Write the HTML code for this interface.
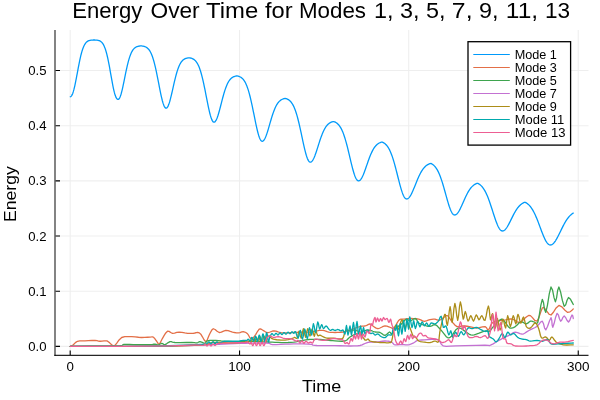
<!DOCTYPE html>
<html><head><meta charset="utf-8"><style>
html,body{margin:0;padding:0;background:#fff;width:600px;height:400px;overflow:hidden}
svg{display:block;will-change:transform}
text{font-family:"Liberation Sans",sans-serif}
</style></head><body>
<svg width="600" height="400" viewBox="0 0 600 400">
<rect width="600" height="400" fill="#fff"/>
<path d="M70.2 30V355 M239.55 30V355 M408.7 30V355 M578.25 30V355 M55 346.4H588.5 M55 291.22H588.5 M55 236.04H588.5 M55 180.86H588.5 M55 125.68H588.5 M55 70.5H588.5" stroke="#000" stroke-opacity="0.065" stroke-width="1.1" fill="none"/>
<path d="M55 30V356.1" stroke="#000" stroke-width="1.3" stroke-opacity="0.75" fill="none"/>
<path d="M54.35 355.45H588.5" stroke="#000" stroke-width="1.3" stroke-opacity="0.85" fill="none"/>
<path d="M70.2 355V350.5 M239.55 355V350.5 M408.7 355V350.5 M578.25 355V350.5 M55.6 346.4H60 M55.6 291.22H60 M55.6 236.04H60 M55.6 180.86H60 M55.6 125.68H60 M55.6 70.5H60" stroke="#000" stroke-width="1.1" fill="none"/>
<defs><clipPath id="c"><rect x="55.6" y="30" width="533" height="325"/></clipPath></defs>
<g clip-path="url(#c)" fill="none" stroke-width="1.3" stroke-linejoin="round" stroke-linecap="round">
<path d="M70.3 346.4 L70.93 346.12 L71.87 345.69 L73 345 L74.26 343.82 L75.71 342.38 L77.5 341.3 L79.69 340.89 L82.2 340.83 L85 340.8 L88.33 340.65 L91.94 340.51 L95 340.5 L97.01 340.72 L98.46 341.05 L100 341.25 L102 341.14 L104.08 340.89 L105.8 340.8 L106.81 340.9 L107.46 341.14 L108.3 341.7 L109.64 342.86 L111.16 344.34 L112.5 345.4 L113.3 345.97 L113.92 346.12 L115 345.4 L116.8 343.09 L119.07 339.9 L121.7 337.5 L124.79 336.65 L128.24 336.59 L131.7 336.7 L135.1 336.89 L138.49 337.26 L141.7 337.5 L144.78 337.44 L147.67 337.25 L150 337.1 L151.47 336.92 L152.38 336.78 L153.3 337.1 L154.46 338.22 L155.63 339.8 L156.7 341.25 L157.57 342.65 L158.34 343.92 L159.2 344.2 L160.18 342.93 L161.24 340.68 L162.5 338.3 L164.04 335.7 L165.77 332.97 L167.5 331.25 L169.1 331.38 L170.71 332.52 L172.5 333.3 L174.55 333.05 L176.79 332.44 L179.2 332.1 L181.94 332.37 L184.86 332.9 L187.5 333.3 L189.68 333.42 L191.58 333.4 L193.3 333.3 L194.85 333 L196.23 332.61 L197.5 332.5 L198.6 332.67 L199.61 333.11 L200.8 334.2 L202.4 336.8 L204.19 340.04 L205.8 341.7 L207.03 340.5 L208.07 337.73 L209.2 335 L210.45 332.51 L211.77 330.08 L213.3 328.75 L215.11 329.48 L217.11 331.31 L219.2 332.5 L221.34 332.09 L223.57 331.04 L225.8 330.4 L228.06 330.72 L230.33 331.46 L232.5 332.1 L234.53 332.51 L236.46 332.81 L238.3 332.9 L240.06 332.53 L241.72 331.93 L243.3 331.7 L244.79 332.03 L246.2 332.73 L247.5 333.75 L248.66 335.46 L249.73 337.5 L250.8 338.75 L251.87 338.79 L252.94 338.05 L254.2 336.7 L255.81 334.3 L257.6 331.29 L259.2 329.2 L260.39 328.79 L261.4 329.3 L262.5 330 L263.87 330.82 L265.33 331.83 L266.7 332.5 L267.83 332.58 L268.87 332.33 L270 332 L271.27 331.54 L272.65 331.01 L274.2 330.8 L276.04 331.2 L278.07 331.91 L280 332.5 L281.59 332.79 L283.09 332.95 L285 333 L287.62 332.9 L290.66 332.7 L293.7 332.5 L296.67 332.35 L299.66 332.21 L302.5 332.1 L305.07 332.09 L307.5 332.11 L310 332 L312.92 331.62 L315.91 331.11 L318.2 330.7 L319.18 330.47 L319.44 330.34 L320 330.3 L321.28 330.34 L322.84 330.46 L324.4 330.7 L325.77 331.13 L327.12 331.67 L328.7 332.1 L330.59 332.34 L332.7 332.47 L335 332.5 L337.58 332.46 L340.34 332.31 L343 332 L345.3 331.5 L347.48 330.83 L350 330 L353.3 328.83 L356.93 327.5 L360 326.5 L362.04 326.17 L363.52 326.17 L365 326 L366.74 325.3 L368.48 324.43 L370 324 L371.11 324.35 L372 325.15 L373 326 L374.3 326.91 L375.7 327.87 L377 328.5 L378 328.62 L378.89 328.4 L380 328 L381.5 327.25 L383.21 326.31 L385 325.8 L386.9 326.1 L388.87 326.83 L390.6 327.5 L391.93 328.12 L393.01 328.68 L394 328.6 L394.88 327.48 L395.66 325.73 L396.5 324 L397.44 322.37 L398.44 320.77 L399.6 319.6 L400.91 319.15 L402.37 319.13 L404.1 319.1 L406.19 318.86 L408.55 318.61 L411 318.5 L413.58 318.55 L416.25 318.74 L418.7 319.1 L420.75 319.86 L422.58 320.8 L424.4 321.3 L426.3 320.98 L428.18 320.22 L430 319.6 L431.74 319.28 L433.42 319.09 L435 319.1 L436.43 319.55 L437.76 320.2 L439.1 320.4 L440.5 319.77 L441.9 318.7 L443.3 317.7 L444.67 316.67 L446.04 315.71 L447.4 315.6 L448.71 316.87 L450.03 318.99 L451.5 321.1 L453.23 323.16 L455.11 325.23 L457 326.6 L458.78 326.77 L460.56 326.26 L462.5 325.9 L464.7 326 L467.05 326.26 L469.4 326.6 L471.63 327.12 L473.87 327.71 L476.3 328 L479.26 327.56 L482.43 326.81 L485 326.6 L486.52 327.79 L487.46 329.52 L488.4 330.1 L489.49 328.39 L490.58 325.53 L491.9 323.2 L493.49 322.11 L495.29 321.56 L497.4 321.1 L499.98 320.59 L502.86 320.16 L505.6 319.8 L508 319.37 L510.25 319.01 L512.5 319.1 L514.8 320.26 L517.1 321.87 L519.4 322.5 L521.8 321.17 L524.21 318.86 L526.3 317 L527.78 315.97 L528.95 315.4 L530.4 315.6 L532.46 317.64 L534.8 320.47 L537 321.2 L538.93 317.64 L540.71 311.99 L542.3 308 L543.54 307.36 L544.57 308.39 L545.8 309.8 L547.31 311.83 L549 314.24 L551 315 L553.4 312.28 L556.1 307.92 L558.9 305.4 L561.89 306.89 L564.97 310.23 L567.7 312.4 L570.01 311.88 L571.97 310.2 L573.3 308.9" stroke="#E36F47"/>
<path d="M70.3 346.4 L78.36 346.23 L89.72 345.99 L100 345.8 L107.97 345.78 L114.86 345.81 L120 345.7 L122.39 345.27 L123.02 344.69 L124.2 344.3 L126.59 344.29 L129.52 344.46 L133.3 344.6 L138.74 344.64 L145.02 344.64 L150 344.6 L152.6 344.45 L153.89 344.26 L155 344.2 L156.22 344.47 L157.26 344.87 L158.3 345 L159.43 344.51 L160.57 343.74 L161.7 343.3 L162.74 343.67 L163.78 344.37 L165 344.6 L166.54 343.81 L168.27 342.55 L170 341.7 L171.23 341.72 L172.47 342.16 L175 342.5 L180.13 342.54 L186.57 342.5 L191.7 342.5 L194.3 342.66 L195.59 342.87 L196.7 342.9 L197.86 342.51 L198.84 341.95 L200 341.7 L201.63 342.18 L203.46 342.97 L205 343.3 L205.8 342.69 L206.33 341.63 L207.5 340.8 L209.83 340.46 L212.81 340.36 L215.8 340.4 L218.44 340.61 L221.09 340.95 L224.2 341.25 L228.22 341.46 L232.69 341.63 L236.7 341.7 L239.71 341.59 L242.26 341.38 L245 341.25 L248.14 341.27 L251.48 341.37 L255 341.5 L258.9 341.66 L262.99 341.84 L266.7 342 L269.66 342.11 L272.23 342.21 L275 342.3 L278.26 342.43 L281.7 342.56 L285 342.6 L288.09 342.51 L291.03 342.34 L293.7 342.1 L295.89 341.79 L297.82 341.42 L300 341 L302.82 340.47 L305.89 339.9 L308.6 339.5 L310.58 339.39 L312.2 339.44 L313.9 339.5 L315.78 339.47 L317.74 339.43 L320 339.5 L322.8 339.75 L325.88 340.1 L328.7 340.4 L330.84 340.58 L332.71 340.7 L335 340.8 L338.24 341.04 L341.9 341.25 L345 341 L346.93 339.98 L348.3 338.49 L350 337 L352.37 335.63 L355.07 334.26 L358 333 L361.3 331.74 L364.81 330.59 L368 330 L370.63 330.35 L372.93 331.26 L375 332 L376.81 332.19 L378.41 332.21 L380 332.5 L381.69 333.52 L383.37 334.81 L385 335.4 L386.62 334.53 L388.19 332.95 L389.5 332 L390.4 332.56 L391.04 333.73 L391.7 334.2 L392.43 333.23 L393.18 331.55 L394 330 L394.92 328.89 L395.92 327.9 L397 327 L398.11 326.3 L399.29 325.69 L400.7 324.7 L402.53 322.8 L404.58 320.53 L406.4 319.1 L407.69 319.34 L408.74 320.41 L410 321 L411.74 320.23 L413.69 318.98 L415.4 318.5 L416.57 319.57 L417.5 321.41 L418.7 323 L420.43 323.94 L422.42 324.63 L424.4 325.2 L426.3 325.79 L428.18 326.26 L430 326.4 L431.74 325.83 L433.42 324.93 L435 324.6 L436.43 325.3 L437.76 326.57 L439.1 328 L440.5 329.5 L441.9 331.15 L443.3 332.8 L444.67 334.63 L446.04 336.45 L447.4 337.6 L448.77 337.8 L450.13 337.32 L451.5 336.3 L452.86 334.44 L454.23 332.04 L455.6 330.1 L456.94 328.89 L458.3 328.13 L459.8 328 L461.54 328.76 L463.42 330.13 L465.3 331.5 L467.13 332.79 L468.97 334.07 L470.8 334.9 L472.51 335.06 L474.23 334.77 L476.3 334.2 L479.13 333.18 L482.32 331.89 L485 331 L486.7 331.09 L487.9 331.6 L489.1 331.5 L490.5 330.24 L491.9 328.37 L493.3 326.6 L494.67 325.15 L496.04 323.79 L497.4 322.5 L498.79 321.08 L500.18 319.74 L501.5 319.1 L502.66 319.49 L503.76 320.57 L505 322 L506.48 324.04 L508.1 326.43 L509.8 328 L511.58 328.21 L513.44 327.59 L515.3 326.6 L517.13 325 L518.97 323.01 L520.8 321.8 L522.69 322.17 L524.57 323.31 L526.3 323.9 L527.77 323.19 L529.09 321.94 L530.4 321.1 L531.76 321.16 L533.11 321.63 L534.4 322 L535.57 322.91 L536.69 323.71 L537.9 322 L539.33 314.79 L540.87 305.06 L542.3 299.3 L543.47 302.44 L544.54 309.56 L545.8 312.4 L547.44 305.29 L549.26 293.91 L551 287 L552.56 290.09 L554.03 297.65 L555.4 301.9 L556.57 297.87 L557.63 290.54 L558.9 287 L560.57 291.94 L562.44 300.68 L564.2 306.3 L565.69 304.86 L567.07 300.3 L568.5 297.5 L570.24 298.92 L572.04 302.1 L573.3 304.5" stroke="#3EA44E"/>
<path d="M70.3 346.4 L92.25 346.37 L123.05 346.32 L150 346.2 L168 346.01 L182.15 345.75 L195 345.4 L207.58 344.87 L218.86 344.24 L228.3 343.75 L234.91 343.51 L239.68 343.39 L245 343.3 L252.45 343.12 L260.46 342.95 L266.7 343 L269.56 343.47 L270.66 344.14 L272.5 344.6 L276.15 344.61 L280.54 344.4 L285 344.2 L289.32 344.07 L293.71 343.94 L298.1 343.9 L302.89 343.96 L307.67 344.1 L311.2 344.3 L312.44 344.58 L312.43 344.92 L313 345.2 L314.65 345.39 L316.88 345.51 L320 345.6 L324.41 345.61 L329.7 345.59 L335 345.6 L340.19 345.74 L345.37 345.92 L350 346 L353.89 345.96 L357.22 345.81 L360 345.5 L362.04 344.93 L363.52 344.19 L365 343.5 L366.59 342.91 L368.19 342.37 L370 342 L372.15 341.93 L374.52 342.02 L377 342 L379.68 341.68 L382.47 341.25 L385 341 L387.17 341.04 L389.07 341.27 L390.6 341.6 L391.61 342.06 L392.26 342.62 L392.9 343.2 L393.47 343.84 L394.03 344.49 L395.1 344.9 L397.07 344.86 L399.55 344.57 L401.9 344.4 L403.86 344.57 L405.68 344.86 L407.5 344.9 L409.41 344.54 L411.31 343.93 L413.1 343.2 L414.6 342.26 L415.97 341.2 L417.6 340.4 L419.56 340.07 L421.77 340 L424.4 339.9 L427.89 339.61 L431.81 339.3 L435 339.2 L436.84 339.3 L437.97 339.61 L439.1 340.4 L440.19 342.12 L441.3 344.31 L443.3 345.9 L446.17 346.33 L449.93 346.16 L455.6 345.9 L465.02 345.69 L476.34 345.41 L485 345.2 L488.5 345.33 L489.34 345.53 L490.5 345.2 L493.16 343.88 L496.14 342.03 L498.8 340.4 L500.84 339.31 L502.57 338.45 L504.3 337.6 L506.13 336.7 L507.97 335.8 L509.8 334.9 L511.59 333.79 L513.37 332.67 L515.3 332.1 L517.57 332.59 L519.98 333.63 L522.1 334.2 L523.71 333.81 L525.03 332.96 L526.3 332.1 L527.45 331.42 L528.54 330.73 L530 329.9 L532.15 328.89 L534.67 327.74 L537 326.4 L538.96 324.28 L540.73 321.97 L542.3 321.2 L543.54 323.84 L544.57 328.03 L545.8 329.9 L547.53 326.57 L549.46 320.93 L551 317.7 L551.76 320.16 L552.14 325.04 L552.8 327.3 L554.08 323.57 L555.63 317.22 L557.1 313.3 L558.32 314.8 L559.46 318.73 L560.6 321.2 L561.77 319.99 L562.94 317.31 L564.2 315.9 L565.61 317.57 L567.1 320.51 L568.5 322 L569.81 320.25 L571.03 317.04 L572 315 L572.64 315.52 L573.04 317.2 L573.3 318.5" stroke="#C371D2"/>
<path d="M70.3 346.4 L92.06 346.38 L122.68 346.33 L150 346.2 L170.29 345.99 L187.27 345.69 L200 345.2 L206.86 344.33 L209.47 343.26 L211.7 342.5 L214.56 342.29 L217.05 342.37 L220 342.5 L223.86 342.65 L228.18 342.84 L232.5 342.9 L236.98 342.73 L241.46 342.43 L245 342.1 L247.07 341.73 L248.2 341.33 L249 341 L249.58 340.74 L249.82 340.55 L250 340.5 L250.18 340.67 L250.29 340.97 L250.4 341.24 L250.53 341.43 L250.67 341.59 L250.8 341.68 L250.93 341.71 L251.07 341.67 L251.2 341.58 L251.33 341.4 L251.47 341.17 L251.6 340.9 L251.73 340.59 L251.87 340.25 L252 339.91 L252.13 339.59 L252.27 339.28 L252.4 339.02 L252.53 338.83 L252.67 338.69 L252.8 338.63 L252.93 338.66 L253.07 338.77 L253.2 338.94 L253.33 339.18 L253.47 339.49 L253.6 339.82 L253.73 340.17 L253.87 340.55 L254 340.89 L254.13 341.19 L254.27 341.46 L254.4 341.65 L254.53 341.75 L254.67 341.77 L254.8 341.7 L254.93 341.53 L255.07 341.28 L255.2 340.97 L255.33 340.59 L255.47 340.15 L255.6 339.72 L255.73 339.28 L255.87 338.85 L256 338.47 L256.13 338.17 L256.27 337.93 L256.4 337.79 L256.53 337.76 L256.67 337.82 L256.8 337.98 L256.93 338.25 L257.07 338.6 L257.2 338.99 L257.33 339.44 L257.47 339.92 L257.6 340.38 L257.73 340.8 L257.87 341.2 L258 341.5 L258.13 341.71 L258.27 341.82 L258.4 341.82 L258.53 341.69 L258.67 341.45 L258.8 341.13 L258.93 340.71 L259.07 340.2 L259.2 339.68 L259.33 339.14 L259.47 338.57 L259.6 338.07 L259.73 337.64 L259.87 337.27 L260 337.02 L260.13 336.9 L260.27 336.89 L260.4 337 L260.53 337.24 L260.67 337.61 L260.8 338.04 L260.93 338.55 L261.07 339.13 L261.2 339.7 L261.33 340.25 L261.47 340.78 L261.6 341.22 L261.73 341.56 L261.87 341.79 L262 341.9 L262.13 341.85 L262.27 341.66 L262.4 341.36 L262.53 340.93 L262.67 340.38 L262.8 339.79 L262.93 339.15 L263.07 338.47 L263.2 337.84 L263.33 337.27 L263.47 336.76 L263.6 336.37 L263.73 336.12 L263.87 336 L264 336.02 L264.13 336.21 L264.27 336.55 L264.4 336.99 L264.53 337.54 L264.67 338.2 L264.8 338.86 L264.93 339.52 L265.07 340.2 L265.2 340.79 L265.33 341.26 L265.47 341.65 L265.6 341.89 L265.73 341.95 L265.87 341.86 L266 341.62 L266.13 341.21 L266.27 340.66 L266.4 340.04 L266.53 339.32 L266.67 338.54 L266.8 337.79 L266.93 337.08 L267.07 336.4 L267.2 335.86 L267.33 335.46 L267.47 335.19 L267.6 335.1 L267.67 335.24 L267.75 335.55 L268 335.87 L268.5 336.08 L269.18 336.3 L270 336.7 L270.69 337.46 L271.53 338.42 L273.3 339.2 L276.72 339.76 L281.07 340.14 L285 340.2 L288.14 339.71 L290.87 338.9 L292.9 338.2 L293.89 337.75 L294.2 337.43 L294.6 337.3 L295.43 337.76 L296.36 338.42 L297.2 338.2 L297.84 335.93 L298.4 332.79 L299 331.2 L299.7 333.11 L300.45 336.58 L301.2 338.2 L301.93 335.55 L302.67 331.06 L303.4 328.6 L304.14 330.79 L304.87 335.01 L305.6 337.3 L306.3 335.09 L306.99 330.95 L307.7 328.6 L308.46 330.41 L309.24 334 L310 336 L310.71 334.2 L311.4 330.8 L312.1 329 L312.86 330.89 L313.63 334.37 L314.3 336.4 L314.77 335.08 L315.13 332.3 L315.6 330.7 L316.27 331.75 L317.03 333.97 L317.8 335.6 L318.55 335.78 L319.3 335.36 L320 335.1 L320.57 335.28 L321.08 335.62 L321.7 336 L322.53 336.42 L323.47 336.88 L324.4 337.3 L325.24 337.66 L326.07 337.98 L327 338.2 L328.06 338.26 L329.23 338.23 L330.5 338.2 L331.91 338.2 L333.43 338.22 L335 338.3 L336.7 338.55 L338.46 338.87 L340 339 L341.19 338.98 L342.15 338.77 L343 338 L343.74 336.22 L344.37 333.89 L345 332 L345.63 330.93 L346.26 330.3 L347 330 L347.85 330.19 L348.81 330.7 L350 331 L351.52 330.67 L353.26 330.11 L355 330 L356.67 330.56 L358.33 331.56 L360 333 L361.74 335.33 L363.48 338.11 L365 340 L366.19 340.15 L367.15 339.41 L368 339 L368.63 339.48 L369.15 340.3 L370 341 L371.44 341.43 L373.22 341.74 L375 342 L376.67 342.21 L378.33 342.37 L380 342.5 L381.69 342.6 L383.37 342.66 L385 342.7 L386.62 342.78 L388.19 342.83 L389.5 342.7 L390.4 342.63 L391.04 342.38 L391.7 341 L392.46 337.53 L393.24 332.93 L394 329.2 L394.74 326.99 L395.46 325.65 L396.2 325.2 L396.92 326.44 L397.65 328.58 L398.5 329.2 L399.57 326.32 L400.77 321.93 L401.9 319.6 L402.88 321.76 L403.79 325.99 L404.7 328.6 L405.61 327.34 L406.52 324.45 L407.5 323 L408.63 324.54 L409.83 327.51 L410.9 330.3 L411.7 332.44 L412.37 334.39 L413.1 335.9 L413.99 336.69 L414.94 337.05 L415.9 337.6 L416.73 338.69 L417.55 339.97 L418.7 341 L420.39 341.56 L422.4 341.86 L424.4 342.1 L426.3 342.42 L428.18 342.69 L430 342.7 L431.77 342.21 L433.47 341.47 L435 341 L436.33 341.47 L437.47 342.22 L438.4 341.8 L438.99 339.34 L439.36 335.71 L439.8 332.1 L440.47 328.7 L441.21 325.32 L441.9 322.5 L442.46 320.59 L442.97 319.25 L443.5 318 L444.07 316.16 L444.67 314.41 L445.3 314.3 L445.96 317.97 L446.64 323.28 L447.4 325.3 L448.28 320.02 L449.22 311.45 L450.1 306.7 L450.82 310.71 L451.48 318.55 L452.2 322.5 L453.05 317.35 L453.97 308.31 L454.9 303.3 L455.83 307.63 L456.77 315.99 L457.7 320.4 L458.6 315.55 L459.5 306.74 L460.4 301.9 L461.35 305.91 L462.31 313.88 L463.2 319.1 L463.93 317.77 L464.58 313.68 L465.3 311.5 L466.15 313.99 L467.07 318.38 L468 321.1 L468.93 319.98 L469.87 317.18 L470.8 315.6 L471.7 317.05 L472.6 319.73 L473.5 321.1 L474.43 319.49 L475.37 316.58 L476.3 314.9 L477.2 316.05 L478.1 318.43 L479 319.8 L479.91 318.74 L480.83 316.67 L481.8 315.6 L482.83 317.24 L483.9 319.89 L485 320.4 L486.17 315.98 L487.36 309.42 L488.4 306 L489.2 309.25 L489.85 315.64 L490.5 319.8 L491.18 318.45 L491.86 314.88 L492.6 313.6 L493.48 317.76 L494.42 324.21 L495.3 328 L496.02 325.79 L496.68 320.91 L497.4 318.4 L498.25 321.56 L499.17 327.09 L500.1 330.1 L501.03 327.38 L501.97 322.13 L502.9 319.1 L503.83 321.38 L504.75 325.87 L505.6 328 L506.32 324.58 L506.98 318.79 L507.7 315.6 L508.55 318.35 L509.47 323.7 L510.4 326.6 L511.33 323.85 L512.27 318.65 L513.2 315.6 L514.13 317.6 L515.05 321.74 L515.9 323.9 L516.62 321.34 L517.27 316.79 L518 314.3 L518.89 316.46 L519.85 320.67 L520.8 323.2 L521.7 321.67 L522.6 318.46 L523.5 317 L524.38 319.33 L525.27 323.42 L526.3 326.6 L527.54 327.91 L528.93 328.32 L530.4 328 L532.03 326.37 L533.74 324.01 L535.3 322.9 L536.6 324 L537.75 326.35 L538.8 329 L539.67 332.09 L540.43 335.49 L541.4 337.8 L542.77 338.06 L544.33 337.23 L545.8 336.9 L547.07 338 L548.23 339.59 L549.3 340.4 L550.17 339.43 L550.93 337.67 L551.9 336.9 L553.14 338.11 L554.57 340.31 L556.3 342.2 L558.33 343.36 L560.65 344.23 L563.3 344.8 L566.78 344.99 L570.6 344.9 L573.3 344.8" stroke="#AC8D18"/>
<path d="M70.3 346.4 L92.25 346.4 L123.05 346.38 L150 346.2 L168.93 345.73 L184 345.1 L195 344.6 L200.66 344.39 L202.23 344.31 L203.3 344.2 L204.94 344.03 L206.06 343.82 L207 343.5 L207.79 342.86 L208.4 342.11 L209 341.8 L209.67 342.41 L210.33 343.46 L211 344 L211.67 343.37 L212.33 342.23 L213 341.6 L213.67 342.15 L214.33 343.21 L215 343.8 L215.67 343.3 L216.33 342.34 L217 341.8 L217.55 342.27 L218.1 343.17 L219 343.6 L220.23 343.04 L221.81 342.01 L224.2 341.25 L228.04 341.11 L232.7 341.23 L236.7 341.25 L239.46 341 L241.56 340.65 L243.3 340.4 L244.74 340.38 L245.82 340.46 L246.7 340.4 L247.36 339.98 L247.83 339.42 L248.3 339.2 L248.91 339.66 L249.53 340.45 L250 341 L250.23 341.07 L250.31 340.9 L250.4 340.67 L250.53 340.42 L250.67 340.09 L250.8 339.74 L250.93 339.36 L251.07 338.95 L251.2 338.57 L251.33 338.22 L251.47 337.9 L251.6 337.65 L251.73 337.5 L251.87 337.42 L252 337.43 L252.13 337.55 L252.27 337.76 L252.4 338.03 L252.53 338.38 L252.67 338.8 L252.8 339.22 L252.93 339.65 L253.07 340.08 L253.2 340.46 L253.33 340.77 L253.47 341.01 L253.6 341.16 L253.73 341.18 L253.87 341.11 L254 340.93 L254.13 340.63 L254.27 340.23 L254.4 339.78 L254.53 339.27 L254.67 338.71 L254.8 338.17 L254.93 337.66 L255.07 337.17 L255.2 336.78 L255.33 336.49 L255.47 336.31 L255.6 336.24 L255.73 336.32 L255.87 336.52 L256 336.83 L256.13 337.25 L256.27 337.77 L256.4 338.32 L256.53 338.9 L256.67 339.5 L256.8 340.05 L256.93 340.52 L257.07 340.93 L257.2 341.22 L257.33 341.35 L257.47 341.36 L257.6 341.23 L257.73 340.95 L257.87 340.52 L258 340.01 L258.13 339.39 L258.27 338.7 L258.4 338.01 L258.53 337.33 L258.67 336.66 L258.8 336.09 L258.93 335.64 L259.07 335.3 L259.2 335.11 L259.33 335.1 L259.47 335.24 L259.6 335.53 L259.73 335.98 L259.87 336.56 L260 337.21 L260.13 337.92 L260.27 338.69 L260.4 339.41 L260.53 340.06 L260.67 340.67 L260.8 341.13 L260.93 341.42 L261.07 341.57 L261.2 341.54 L261.33 341.31 L261.47 340.91 L261.6 340.38 L261.73 339.7 L261.87 338.9 L262 338.08 L262.13 337.24 L262.27 336.38 L262.4 335.62 L262.53 334.98 L262.67 334.44 L262.8 334.08 L262.93 333.93 L263.07 333.97 L263.2 334.18 L263.33 334.6 L263.47 335.21 L263.6 335.91 L263.73 336.72 L263.87 337.64 L264 338.52 L264.13 339.36 L264.27 340.18 L264.4 340.84 L264.53 341.32 L264.67 341.65 L264.8 341.78 L264.93 341.66 L265.07 341.34 L265.2 340.85 L265.33 340.15 L265.47 339.29 L265.6 338.37 L265.73 337.38 L265.87 336.34 L266 335.39 L266.13 334.54 L266.27 333.78 L266.4 333.22 L266.53 332.89 L266.67 332.76 L266.8 332.84 L266.93 333.19 L267.07 333.75 L267.2 334.46 L267.33 335.34 L267.47 336.36 L267.6 337.39 L267.73 338.41 L267.87 339.44 L268 340.31 L268.13 341.02 L268.27 341.58 L268.4 341.9 L268.5 342.06 L268.61 341.99 L268.8 341.36 L269.17 339.68 L269.63 337.44 L270 335.8 L270.19 335.34 L270.3 335.47 L270.4 335.57 L270.53 335.42 L270.67 335.23 L270.8 335.03 L270.93 334.82 L271.07 334.59 L271.2 334.38 L271.33 334.18 L271.47 334 L271.6 333.85 L271.73 333.74 L271.87 333.66 L272 333.62 L272.13 333.64 L272.27 333.69 L272.4 333.78 L272.53 333.9 L272.67 334.06 L272.8 334.23 L272.93 334.41 L273.07 334.61 L273.2 334.79 L273.33 334.96 L273.47 335.12 L273.6 335.24 L273.73 335.32 L273.87 335.37 L274 335.38 L274.13 335.35 L274.27 335.27 L274.4 335.16 L274.53 335.01 L274.67 334.83 L274.8 334.64 L274.93 334.43 L275.07 334.21 L275.2 334.01 L275.33 333.82 L275.47 333.64 L275.6 333.49 L275.73 333.38 L275.87 333.31 L276 333.28 L276.13 333.29 L276.27 333.34 L276.4 333.42 L276.53 333.54 L276.67 333.69 L276.8 333.86 L276.93 334.03 L277.07 334.22 L277.2 334.4 L277.33 334.56 L277.47 334.71 L277.6 334.83 L277.73 334.91 L277.87 334.96 L278 334.97 L278.13 334.93 L278.27 334.85 L278.4 334.75 L278.53 334.6 L278.67 334.43 L278.8 334.24 L278.93 334.04 L279.07 333.83 L279.2 333.63 L279.33 333.45 L279.47 333.28 L279.6 333.14 L279.73 333.03 L279.87 332.96 L280 332.93 L280.13 332.94 L280.27 332.98 L280.4 333.06 L280.53 333.18 L280.67 333.33 L280.8 333.48 L280.93 333.65 L281.07 333.84 L281.2 334.01 L281.33 334.16 L281.47 334.31 L281.6 334.42 L281.73 334.5 L281.87 334.54 L282 334.55 L282.13 334.51 L282.27 334.44 L282.4 334.34 L282.53 334.2 L282.67 334.03 L282.8 333.85 L282.93 333.66 L283.07 333.45 L283.2 333.26 L283.33 333.08 L283.47 332.92 L283.6 332.78 L283.73 332.68 L283.87 332.61 L284 332.58 L284.13 332.58 L284.27 332.63 L284.4 332.71 L284.53 332.82 L284.67 332.96 L284.8 333.11 L284.93 333.27 L285.07 333.45 L285.2 333.61 L285.33 333.76 L285.47 333.9 L285.6 334.01 L285.73 334.08 L285.87 334.13 L286 334.13 L286.13 334.1 L286.27 334.03 L286.4 333.93 L286.53 333.79 L286.67 333.63 L286.8 333.46 L286.93 333.27 L287.07 333.07 L287.2 332.89 L287.33 332.71 L287.47 332.55 L287.6 332.42 L287.73 332.33 L287.87 332.26 L288 332.23 L288.13 332.23 L288.27 332.28 L288.4 332.35 L288.53 332.46 L288.67 332.59 L288.8 332.74 L288.93 332.9 L289.07 333.06 L289.2 333.22 L289.33 333.36 L289.47 333.5 L289.6 333.6 L289.73 333.67 L289.87 333.71 L290 333.72 L290.13 333.68 L290.27 333.61 L290.4 333.52 L290.53 333.39 L290.67 333.23 L290.8 333.06 L290.93 332.88 L291.07 332.69 L291.2 332.51 L291.33 332.35 L291.47 332.19 L291.6 332.07 L291.73 331.97 L291.87 331.91 L292 331.88 L292.13 331.88 L292.27 331.93 L292.4 332 L292.53 332.1 L292.67 332.23 L292.8 332.36 L292.93 332.52 L293.07 332.68 L293.2 332.83 L293.33 332.96 L293.47 333.09 L293.6 333.19 L293.69 333.31 L293.79 333.41 L294 333.3 L294.38 332.56 L294.88 331.62 L295.5 331.6 L296.3 333.72 L297.22 336.77 L298.1 338.2 L298.86 336.02 L299.58 332.23 L300.3 330.3 L301.03 332.7 L301.77 336.95 L302.5 339.1 L303.22 336.4 L303.94 331.61 L304.7 329 L305.55 331.5 L306.45 336.19 L307.3 338.6 L308.06 335.81 L308.78 330.74 L309.5 327.7 L310.25 329.51 L311 333.35 L311.7 335.1 L312.29 331.94 L312.81 326.7 L313.4 323.7 L314.1 325.85 L314.85 330.25 L315.6 332.5 L316.35 329.78 L317.1 324.92 L317.8 322 L318.42 323.46 L318.99 326.86 L319.6 329 L320.29 328.07 L321.01 325.87 L321.7 324.6 L322.29 325.56 L322.85 327.45 L323.5 328.6 L324.31 327.98 L325.2 326.62 L326.1 325.9 L327 326.57 L327.89 327.89 L328.7 329 L329.34 329.65 L329.9 330.1 L330.5 330.3 L331.2 330.09 L331.94 329.63 L332.7 329.4 L333.43 329.7 L334.18 330.21 L335 330.5 L335.95 330.23 L336.97 329.73 L338 329.5 L339.04 329.91 L340.07 330.59 L341 331 L341.74 330.67 L342.37 330.06 L343 330 L343.69 331.43 L344.37 333.41 L345 334 L345.54 331.43 L346.02 327.46 L346.5 325.5 L346.98 328.02 L347.46 332.54 L348 335 L348.65 332.7 L349.35 328.35 L350 326 L350.52 328.46 L350.98 332.93 L351.5 335 L352.15 331.52 L352.85 325.65 L353.5 322.5 L354.02 325.61 L354.48 331.44 L355 334.5 L355.65 331.07 L356.35 324.87 L357 321.5 L357.52 324.54 L357.98 330.41 L358.5 334 L359.15 332.24 L359.85 328.2 L360.5 326 L361.04 328.19 L361.52 332.2 L362 334.5 L362.5 332.81 L363 329.41 L363.5 327.5 L363.98 329.06 L364.46 332.11 L365 334 L365.63 333.2 L366.31 331.24 L367 330 L367.67 330.41 L368.33 331.54 L369 332.5 L369.67 333 L370.33 333.33 L371 333.5 L371.67 333.35 L372.33 333.04 L373 333 L373.63 333.59 L374.26 334.46 L375 335 L375.93 334.76 L376.96 334.19 L378 334 L378.96 334.63 L379.93 335.64 L381 336.5 L382.28 337.11 L383.67 337.57 L385 337.6 L386.18 336.85 L387.3 335.67 L388.4 334.8 L389.57 334.84 L390.72 335.2 L391.7 334.8 L392.36 332.7 L392.85 329.84 L393.4 328 L394.17 328.39 L395 329.78 L395.7 330.3 L396.13 328.4 L396.43 325.61 L396.8 324.7 L397.32 328.06 L397.91 333.29 L398.5 335.9 L399.07 332.69 L399.63 326.87 L400.2 323.6 L400.77 326.33 L401.33 331.6 L401.9 334.2 L402.47 330.59 L403.04 324.3 L403.6 320.7 L404.14 323.33 L404.66 328.64 L405.2 331.4 L405.76 328.17 L406.33 322.39 L406.9 319.1 L407.49 321.64 L408.08 326.67 L408.6 329.2 L408.97 325.88 L409.27 320.06 L409.7 316.8 L410.4 319.3 L411.23 324.37 L412 327.5 L412.61 325.99 L413.16 322.53 L413.7 320.7 L414.25 322.81 L414.8 326.55 L415.4 328.6 L416.09 326.81 L416.84 323.34 L417.6 321.3 L418.36 322.6 L419.14 325.34 L419.9 326.9 L420.64 325.69 L421.36 323.3 L422.1 321.9 L422.86 322.79 L423.64 324.67 L424.4 325.8 L425.14 325.13 L425.86 323.72 L426.6 323 L427.36 323.93 L428.14 325.54 L428.9 326.4 L429.58 325.61 L430.24 324.07 L431.1 323 L432.29 323.12 L433.67 323.71 L435 323.9 L436.19 323.31 L437.33 322.32 L438.4 321.1 L439.4 319.06 L440.34 316.8 L441.2 316.3 L441.93 319.25 L442.58 323.96 L443.3 327.3 L444.15 327.4 L445.07 326.13 L446 326 L446.96 328.69 L447.92 332.52 L448.8 334.9 L449.52 334.09 L450.16 331.84 L450.8 330.8 L451.47 332.71 L452.15 335.84 L452.9 337.6 L453.75 336.32 L454.67 333.67 L455.6 332.1 L456.53 333.11 L457.47 335.21 L458.4 336.3 L459.3 335.06 L460.2 332.83 L461.1 331.5 L461.98 332.41 L462.87 334.23 L463.9 334.9 L465.17 333.08 L466.59 330.12 L468 328 L469.36 327.75 L470.73 328.34 L472.1 328.7 L473.5 328.26 L474.9 327.59 L476.3 327.3 L477.66 327.74 L479 328.57 L480.4 329.4 L481.96 330.2 L483.58 331.01 L485 331.5 L486.12 331.24 L487.04 330.68 L487.8 330.8 L488.24 332.28 L488.51 334.44 L489.1 336.3 L490.34 337.4 L491.9 338.2 L493.3 339 L494.31 340.13 L495.15 341.28 L496 341.8 L496.9 341.38 L497.82 340.34 L498.8 339 L499.91 337.01 L501.1 334.72 L502.2 333.5 L503.15 334.51 L504.02 336.59 L504.9 337.6 L505.83 336.17 L506.77 333.67 L507.7 332.1 L508.58 332.57 L509.44 333.97 L510.4 334.9 L511.49 334.54 L512.66 333.71 L513.9 333.5 L515.22 334.56 L516.61 336.23 L518 337.6 L519.36 338.29 L520.73 338.69 L522.1 339 L523.5 339.26 L524.9 339.44 L526.3 339.7 L527.58 340.19 L528.85 340.76 L530.4 341.1 L532.46 340.96 L534.8 340.59 L537 340.4 L538.87 340.68 L540.59 341.14 L542.3 341.3 L544.1 340.67 L545.9 339.74 L547.5 339.5 L548.66 340.67 L549.64 342.53 L551 343.9 L553.07 344.24 L555.54 344.1 L558 343.9 L560.29 343.77 L562.57 343.58 L565 343.4 L567.98 343.24 L571.1 343.1 L573.3 343" stroke="#00A9AD"/>
<path d="M70.3 346.4 L92.25 346.39 L123.05 346.35 L150 346.2 L168.93 345.81 L184 345.32 L195 345 L200.73 345.08 L202.38 345.34 L203.3 345.4 L204.34 344.94 L204.66 344.28 L205 344 L205.64 344.56 L206.32 345.5 L207 346 L207.67 345.48 L208.33 344.52 L209 344 L209.67 344.52 L210.33 345.48 L211 346 L211.67 345.5 L212.33 344.56 L213 344 L213.67 344.36 L214.33 345.11 L215 345.5 L215.63 345.13 L216.26 344.4 L217 343.8 L217.57 343.54 L218.26 343.41 L220 343.3 L223.46 343.16 L227.98 343.03 L232.5 342.9 L237.04 342.77 L241.57 342.64 L245 342.5 L246.57 342.25 L247.04 341.99 L247.5 342 L248.41 342.59 L249.32 343.46 L250 344 L250.29 343.87 L250.34 343.41 L250.4 342.99 L250.53 342.75 L250.67 342.55 L250.8 342.44 L250.93 342.41 L251.07 342.45 L251.2 342.57 L251.33 342.77 L251.47 343.04 L251.6 343.34 L251.73 343.68 L251.87 344.05 L252 344.4 L252.13 344.73 L252.27 345.04 L252.4 345.29 L252.53 345.46 L252.67 345.57 L252.8 345.6 L252.93 345.54 L253.07 345.4 L253.2 345.2 L253.33 344.93 L253.47 344.61 L253.6 344.27 L253.73 343.92 L253.87 343.55 L254 343.22 L254.13 342.93 L254.27 342.69 L254.4 342.52 L254.53 342.43 L254.67 342.41 L254.8 342.47 L254.93 342.62 L255.07 342.84 L255.2 343.1 L255.33 343.42 L255.47 343.78 L255.6 344.14 L255.73 344.48 L255.87 344.82 L256 345.11 L256.13 345.33 L256.27 345.5 L256.4 345.59 L256.53 345.59 L256.67 345.51 L256.8 345.36 L256.93 345.14 L257.07 344.85 L257.2 344.53 L257.33 344.19 L257.47 343.81 L257.6 343.47 L257.73 343.15 L257.87 342.86 L258 342.64 L258.13 342.49 L258.27 342.41 L258.4 342.41 L258.53 342.5 L258.67 342.67 L258.8 342.89 L258.93 343.18 L259.07 343.52 L259.2 343.86 L259.33 344.22 L259.47 344.58 L259.6 344.9 L259.73 345.16 L259.87 345.38 L260 345.53 L260.13 345.59 L260.27 345.57 L260.4 345.48 L260.53 345.31 L260.67 345.07 L260.8 344.78 L260.93 344.45 L261.07 344.08 L261.2 343.73 L261.33 343.39 L261.47 343.07 L261.6 342.8 L261.73 342.6 L261.87 342.46 L262 342.4 L262.13 342.43 L262.27 342.54 L262.4 342.71 L262.53 342.96 L262.67 343.27 L262.8 343.6 L262.93 343.95 L263.07 344.32 L263.2 344.66 L263.33 344.96 L263.47 345.23 L263.6 345.43 L263.73 345.55 L263.87 345.59 L264 345.56 L264.13 345.45 L264.27 345.25 L264.4 345.01 L264.48 344.88 L264.56 344.7 L264.8 344 L265.27 342.33 L265.91 340.14 L266.7 338.3 L267.7 337.07 L268.85 336.2 L270 335.8 L271.04 336.15 L272.07 336.96 L273.3 337.5 L274.78 337.32 L276.44 336.86 L278.3 336.7 L280.46 337.2 L282.81 338.01 L285 338.6 L286.91 338.69 L288.65 338.57 L290.2 338.6 L291.52 338.94 L292.66 339.42 L293.7 339.9 L294.7 340.41 L295.6 340.92 L296.4 341.2 L297.04 340.96 L297.56 340.49 L298.1 340.4 L298.68 341.19 L299.27 342.36 L299.9 343 L300.62 342.44 L301.39 341.36 L302.1 340.8 L302.69 341.49 L303.21 342.71 L303.8 343.4 L304.5 342.87 L305.25 341.81 L306 341.2 L306.73 341.6 L307.47 342.45 L308.2 343 L308.93 342.83 L309.67 342.37 L310.4 342.1 L311.17 342.4 L311.93 342.89 L312.6 343 L313.09 342.34 L313.47 341.3 L313.9 340.4 L314.34 339.79 L314.82 339.33 L315.6 339.1 L316.87 339.22 L318.43 339.58 L320 339.9 L321.47 340.14 L322.94 340.35 L324.4 340.4 L325.77 340.21 L327.12 339.86 L328.7 339.5 L330.7 339.1 L332.92 338.69 L335 338.5 L336.84 338.7 L338.53 339.13 L340 339.5 L341.19 339.59 L342.15 339.63 L343 340 L343.74 341.11 L344.37 342.56 L345 343.5 L345.67 343.41 L346.33 342.81 L347 342.5 L347.67 343.07 L348.33 343.93 L349 344 L349.69 342.39 L350.37 340 L351 338.5 L351.54 339.06 L352.02 340.5 L352.5 341 L353 339.26 L353.5 336.57 L354 335 L354.5 335.94 L355 338 L355.5 339 L356 337.46 L356.5 334.87 L357 333.5 L357.5 334.96 L358 337.65 L358.5 339 L359 337.24 L359.5 334.15 L360 332.5 L360.5 334.13 L361 337.2 L361.5 339 L361.98 337.89 L362.46 335.5 L363 334 L363.63 334.74 L364.31 336.37 L365 337 L365.65 335.35 L366.3 332.7 L367 331 L367.83 331.65 L368.72 333.24 L369.5 333.5 L370.07 330.83 L370.54 326.83 L371 324 L371.52 323.74 L372.04 324.65 L372.5 325 L372.85 324.02 L373.15 322.48 L373.5 321 L373.98 319.5 L374.52 318.06 L375 317.5 L375.35 318.72 L375.65 320.83 L376 322 L376.46 321.02 L376.98 319.09 L377.5 318 L378 318.85 L378.5 320.54 L379 321.5 L379.5 320.78 L380 319.33 L380.5 318.5 L381 319.15 L381.5 320.41 L382 321 L382.5 320.07 L383 318.47 L383.5 317.5 L383.97 317.9 L384.45 318.93 L385 319.6 L385.7 319.29 L386.48 318.61 L387.2 318.5 L387.8 319.7 L388.35 321.45 L388.9 322.4 L389.49 321.53 L390.08 319.85 L390.6 319.1 L390.99 320.17 L391.31 322.16 L391.7 324.1 L392.22 325.43 L392.81 326.7 L393.4 328.6 L393.97 331.76 L394.53 335.54 L395.1 338.7 L395.67 340.74 L396.23 342.15 L396.8 343.2 L397.35 344.01 L397.9 344.46 L398.5 344.4 L399.21 343.38 L399.99 341.84 L400.7 341 L401.3 341.77 L401.85 343.22 L402.4 343.8 L402.97 342.39 L403.53 340.1 L404.1 338.7 L404.67 339.41 L405.23 341.01 L405.8 341.6 L406.37 339.83 L406.93 337.06 L407.5 335.4 L408.07 336.29 L408.63 338.29 L409.2 339.3 L409.77 337.91 L410.33 335.52 L410.9 334.2 L411.47 335.26 L412.04 337.39 L412.6 338.7 L413.11 338.14 L413.62 336.77 L414.2 335.9 L414.92 336.32 L415.71 337.24 L416.5 337.6 L417.24 336.76 L417.96 335.35 L418.7 334.2 L419.46 333.52 L420.24 333.09 L421 333.1 L421.74 333.87 L422.46 335.07 L423.2 335.9 L423.96 335.88 L424.74 335.49 L425.5 335.4 L426.24 335.99 L426.96 336.89 L427.7 337.6 L428.36 337.91 L429.03 338.04 L430 338.2 L431.5 338.43 L433.3 338.68 L435 339 L436.48 339.4 L437.86 339.86 L439.1 340.4 L440.11 341.15 L440.97 341.98 L441.9 342.5 L442.99 342.53 L444.14 342.24 L445.3 341.8 L446.49 341.02 L447.69 340.09 L448.8 339.7 L449.76 340.66 L450.62 342.16 L451.5 342.5 L452.43 340.4 L453.37 337.15 L454.3 334.9 L455.18 335.29 L456.05 336.68 L457 336.3 L458.13 331.83 L459.34 325.59 L460.4 321.8 L461.2 323.1 L461.85 326.86 L462.5 329.4 L463.15 328.57 L463.8 326.53 L464.6 326 L465.61 328.75 L466.77 333.03 L468 336.3 L469.31 337.5 L470.7 337.69 L472.1 337.6 L473.5 337.26 L474.9 336.64 L476.3 336.3 L477.66 336.66 L479 337.31 L480.4 337.6 L481.96 337 L483.58 336.04 L485 335.6 L486.07 336.53 L486.94 337.98 L487.8 338.3 L488.73 336.89 L489.65 334.34 L490.5 330.8 L491.25 324.74 L491.93 317.69 L492.6 314.3 L493.3 318.66 L493.98 326.68 L494.6 330.8 L495.09 325.82 L495.5 316.94 L496 312.2 L496.63 316.64 L497.33 325.21 L498.1 330.8 L498.98 329.16 L499.92 324.53 L500.8 322.5 L501.52 326.31 L502.18 332.71 L502.9 337.6 L503.8 338.98 L504.77 338.84 L505.6 339 L506.06 340.29 L506.38 341.89 L507 343.1 L508.16 343.53 L509.63 343.58 L511.1 343.8 L512.24 344.5 L513.39 345.37 L515.3 346 L518.73 346.17 L522.92 346.1 L526.3 346 L527.95 345.94 L528.79 345.86 L530 345.7 L532.15 345.57 L534.67 345.38 L537 344.8 L538.9 343.43 L540.6 341.67 L542.3 340.4 L544.04 339.94 L545.76 339.98 L547.5 340.4 L549.2 341.5 L550.9 342.99 L552.8 343.9 L555.07 343.66 L557.54 342.83 L559.8 342.2 L561.55 342.14 L563.1 342.27 L565 342.2 L567.84 341.67 L571.03 340.93 L573.3 340.4" stroke="#ED5E93"/>
<path d="M70.3 96.77 L70.8 96.56 L71.3 96.11 L71.8 95.4 L72.3 94.42 L72.8 93.18 L73.3 91.67 L73.8 89.92 L74.3 87.95 L74.8 85.78 L75.3 83.43 L75.8 80.95 L76.3 78.36 L76.8 75.7 L77.3 73.01 L77.8 70.31 L78.3 67.65 L78.8 65.04 L79.3 62.53 L79.8 60.12 L80.3 57.84 L80.8 55.71 L81.3 53.73 L81.8 51.91 L82.3 50.25 L82.8 48.76 L83.3 47.43 L83.8 46.25 L84.3 45.22 L84.8 44.33 L85.3 43.56 L85.8 42.9 L86.3 42.34 L86.8 41.88 L87.3 41.49 L87.8 41.17 L88.3 40.91 L88.8 40.7 L89.3 40.54 L89.8 40.4 L90.3 40.3 L90.8 40.22 L91.3 40.16 L91.8 40.11 L92.3 40.07 L92.8 40.04 L93.3 40.02 L93.8 40.01 L94.3 40 L94.8 40.02 L95.3 40.04 L95.8 40.07 L96.3 40.1 L96.8 40.15 L97.3 40.22 L97.8 40.3 L98.3 40.4 L98.8 40.54 L99.3 40.71 L99.8 40.92 L100.3 41.18 L100.8 41.51 L101.3 41.9 L101.8 42.38 L102.3 42.95 L102.8 43.62 L103.3 44.42 L103.8 45.34 L104.3 46.41 L104.8 47.63 L105.3 49.01 L105.8 50.56 L106.3 52.28 L106.8 54.17 L107.3 56.23 L107.8 58.46 L108.3 60.84 L108.8 63.36 L109.3 65.99 L109.8 68.72 L110.3 71.52 L110.8 74.35 L111.3 77.18 L111.8 79.97 L112.3 82.69 L112.8 85.31 L113.3 87.78 L113.8 90.07 L114.3 92.15 L114.8 93.99 L115.3 95.58 L115.8 96.89 L116.3 97.92 L116.8 98.67 L117.3 99.15 L117.8 99.37 L118.3 99.37 L118.8 99.09 L119.3 98.49 L119.8 97.59 L120.3 96.4 L120.8 94.95 L121.3 93.26 L121.8 91.36 L122.3 89.28 L122.8 87.05 L123.3 84.71 L123.8 82.29 L124.3 79.83 L124.8 77.35 L125.3 74.88 L125.8 72.45 L126.3 70.08 L126.8 67.8 L127.3 65.62 L127.8 63.56 L128.3 61.62 L128.8 59.81 L129.3 58.14 L129.8 56.6 L130.3 55.21 L130.8 53.95 L131.3 52.82 L131.8 51.81 L132.3 50.92 L132.8 50.13 L133.3 49.45 L133.8 48.85 L134.3 48.34 L134.8 47.9 L135.3 47.53 L135.8 47.21 L136.3 46.95 L136.8 46.72 L137.3 46.54 L137.8 46.39 L138.3 46.26 L138.8 46.16 L139.3 46.08 L139.8 46.01 L140.3 45.96 L140.8 45.91 L141.3 45.92 L141.8 45.97 L142.3 46.03 L142.8 46.1 L143.3 46.19 L143.8 46.3 L144.3 46.44 L144.8 46.6 L145.3 46.79 L145.8 47.02 L146.3 47.29 L146.8 47.61 L147.3 47.98 L147.8 48.42 L148.3 48.92 L148.8 49.5 L149.3 50.17 L149.8 50.92 L150.3 51.78 L150.8 52.74 L151.3 53.81 L151.8 55 L152.3 56.32 L152.8 57.77 L153.3 59.34 L153.8 61.04 L154.3 62.88 L154.8 64.84 L155.3 66.93 L155.8 69.13 L156.3 71.43 L156.8 73.82 L157.3 76.29 L157.8 78.82 L158.3 81.39 L158.8 83.98 L159.3 86.56 L159.8 89.11 L160.3 91.6 L160.8 94.01 L161.3 96.31 L161.8 98.47 L162.3 100.47 L162.8 102.28 L163.3 103.89 L163.8 105.26 L164.3 106.38 L164.8 107.25 L165.3 107.84 L165.8 108.15 L166.3 108.18 L166.8 107.93 L167.3 107.41 L167.8 106.64 L168.3 105.61 L168.8 104.36 L169.3 102.89 L169.8 101.23 L170.3 99.42 L170.8 97.46 L171.3 95.4 L171.8 93.25 L172.3 91.05 L172.8 88.82 L173.3 86.58 L173.8 84.37 L174.3 82.19 L174.8 80.08 L175.3 78.04 L175.8 76.09 L176.3 74.24 L176.8 72.5 L177.3 70.87 L177.8 69.36 L178.3 67.97 L178.8 66.7 L179.3 65.54 L179.8 64.49 L180.3 63.56 L180.8 62.72 L181.3 61.98 L181.8 61.33 L182.3 60.76 L182.8 60.26 L183.3 59.83 L183.8 59.46 L184.3 59.14 L184.8 58.87 L185.3 58.64 L185.8 58.45 L186.3 58.29 L186.8 58.16 L187.3 58.05 L187.8 57.96 L188.3 57.88 L188.8 57.82 L189.3 57.84 L189.8 57.91 L190.3 58 L190.8 58.11 L191.3 58.24 L191.8 58.4 L192.3 58.59 L192.8 58.81 L193.3 59.08 L193.8 59.38 L194.3 59.74 L194.8 60.16 L195.3 60.64 L195.8 61.19 L196.3 61.82 L196.8 62.53 L197.3 63.33 L197.8 64.24 L198.3 65.24 L198.8 66.36 L199.3 67.59 L199.8 68.94 L200.3 70.42 L200.8 72.02 L201.3 73.74 L201.8 75.59 L202.3 77.56 L202.8 79.65 L203.3 81.84 L203.8 84.13 L204.3 86.51 L204.8 88.97 L205.3 91.48 L205.8 94.03 L206.3 96.6 L206.8 99.17 L207.3 101.72 L207.8 104.22 L208.3 106.65 L208.8 108.98 L209.3 111.19 L209.8 113.25 L210.3 115.15 L210.8 116.85 L211.3 118.35 L211.8 119.62 L212.3 120.65 L212.8 121.42 L213.3 121.93 L213.8 122.18 L214.3 122.16 L214.8 121.91 L215.3 121.43 L215.8 120.74 L216.3 119.84 L216.8 118.74 L217.3 117.47 L217.8 116.04 L218.3 114.47 L218.8 112.78 L219.3 111 L219.8 109.14 L220.3 107.22 L220.8 105.27 L221.3 103.31 L221.8 101.36 L222.3 99.43 L222.8 97.54 L223.3 95.71 L223.8 93.94 L224.3 92.25 L224.8 90.65 L225.3 89.13 L225.8 87.72 L226.3 86.4 L226.8 85.18 L227.3 84.06 L227.8 83.03 L228.3 82.1 L228.8 81.26 L229.3 80.51 L229.8 79.84 L230.3 79.24 L230.8 78.71 L231.3 78.25 L231.8 77.85 L232.3 77.49 L232.8 77.19 L233.3 76.93 L233.8 76.71 L234.3 76.51 L234.8 76.35 L235.3 76.22 L235.8 76.1 L236.3 76.01 L236.8 75.93 L237.3 75.95 L237.8 76.06 L238.3 76.19 L238.8 76.34 L239.3 76.52 L239.8 76.73 L240.3 76.97 L240.8 77.26 L241.3 77.59 L241.8 77.97 L242.3 78.41 L242.8 78.9 L243.3 79.47 L243.8 80.11 L244.3 80.84 L244.8 81.65 L245.3 82.55 L245.8 83.55 L246.3 84.65 L246.8 85.86 L247.3 87.17 L247.8 88.61 L248.3 90.15 L248.8 91.82 L249.3 93.59 L249.8 95.48 L250.3 97.48 L250.8 99.58 L251.3 101.77 L251.8 104.05 L252.3 106.39 L252.8 108.8 L253.3 111.26 L253.8 113.74 L254.3 116.23 L254.8 118.71 L255.3 121.17 L255.8 123.57 L256.3 125.9 L256.8 128.14 L257.3 130.27 L257.8 132.25 L258.3 134.09 L258.8 135.75 L259.3 137.22 L259.8 138.48 L260.3 139.52 L260.8 140.33 L261.3 140.9 L261.8 141.22 L262.3 141.3 L262.8 141.16 L263.3 140.83 L263.8 140.32 L264.3 139.62 L264.8 138.76 L265.3 137.73 L265.8 136.56 L266.3 135.26 L266.8 133.85 L267.3 132.34 L267.8 130.74 L268.3 129.09 L268.8 127.39 L269.3 125.66 L269.8 123.93 L270.3 122.19 L270.8 120.48 L271.3 118.79 L271.8 117.15 L272.3 115.57 L272.8 114.04 L273.3 112.59 L273.8 111.21 L274.3 109.91 L274.8 108.7 L275.3 107.56 L275.8 106.51 L276.3 105.55 L276.8 104.66 L277.3 103.86 L277.8 103.13 L278.3 102.47 L278.8 101.88 L279.3 101.35 L279.8 100.88 L280.3 100.47 L280.8 100.11 L281.3 99.79 L281.8 99.51 L282.3 99.27 L282.8 99.06 L283.3 98.89 L283.8 98.73 L284.3 98.6 L284.8 98.49 L285.3 98.4 L285.8 98.53 L286.3 98.68 L286.8 98.86 L287.3 99.06 L287.8 99.31 L288.3 99.59 L288.8 99.91 L289.3 100.28 L289.8 100.7 L290.3 101.18 L290.8 101.72 L291.3 102.33 L291.8 103.02 L292.3 103.78 L292.8 104.63 L293.3 105.57 L293.8 106.6 L294.3 107.73 L294.8 108.96 L295.3 110.29 L295.8 111.73 L296.3 113.27 L296.8 114.92 L297.3 116.68 L297.8 118.53 L298.3 120.48 L298.8 122.51 L299.3 124.63 L299.8 126.82 L300.3 129.08 L300.8 131.38 L301.3 133.71 L301.8 136.07 L302.3 138.43 L302.8 140.77 L303.3 143.09 L303.8 145.35 L304.3 147.54 L304.8 149.65 L305.3 151.64 L305.8 153.51 L306.3 155.24 L306.8 156.8 L307.3 158.19 L307.8 159.39 L308.3 160.39 L308.8 161.18 L309.3 161.74 L309.8 162.09 L310.3 162.2 L310.8 162.12 L311.3 161.86 L311.8 161.45 L312.3 160.87 L312.8 160.14 L313.3 159.27 L313.8 158.27 L314.3 157.15 L314.8 155.92 L315.3 154.6 L315.8 153.19 L316.3 151.73 L316.8 150.21 L317.3 148.65 L317.8 147.08 L318.3 145.5 L318.8 143.92 L319.3 142.36 L319.8 140.82 L320.3 139.33 L320.8 137.88 L321.3 136.48 L321.8 135.15 L322.3 133.87 L322.8 132.67 L323.3 131.54 L323.8 130.48 L324.3 129.49 L324.8 128.57 L325.3 127.73 L325.8 126.96 L326.3 126.25 L326.8 125.61 L327.3 125.03 L327.8 124.51 L328.3 124.04 L328.8 123.63 L329.3 123.26 L329.8 122.93 L330.3 122.64 L330.8 122.39 L331.3 122.17 L331.8 121.98 L332.3 121.81 L332.8 121.67 L333.3 121.54 L333.8 121.59 L334.3 121.76 L334.8 121.96 L335.3 122.19 L335.8 122.46 L336.3 122.76 L336.8 123.1 L337.3 123.49 L337.8 123.94 L338.3 124.43 L338.8 124.99 L339.3 125.61 L339.8 126.3 L340.3 127.07 L340.8 127.91 L341.3 128.83 L341.8 129.84 L342.3 130.93 L342.8 132.11 L343.3 133.38 L343.8 134.75 L344.3 136.2 L344.8 137.75 L345.3 139.38 L345.8 141.1 L346.3 142.9 L346.8 144.77 L347.3 146.71 L347.8 148.7 L348.3 150.75 L348.8 152.83 L349.3 154.94 L349.8 157.06 L350.3 159.18 L350.8 161.28 L351.3 163.36 L351.8 165.38 L352.3 167.35 L352.8 169.23 L353.3 171.03 L353.8 172.71 L354.3 174.27 L354.8 175.69 L355.3 176.96 L355.8 178.07 L356.3 179.01 L356.8 179.76 L357.3 180.33 L357.8 180.71 L358.3 180.88 L358.8 180.87 L359.3 180.71 L359.8 180.4 L360.3 179.96 L360.8 179.37 L361.3 178.66 L361.8 177.82 L362.3 176.87 L362.8 175.82 L363.3 174.68 L363.8 173.46 L364.3 172.17 L364.8 170.82 L365.3 169.44 L365.8 168.01 L366.3 166.57 L366.8 165.12 L367.3 163.68 L367.8 162.24 L368.3 160.83 L368.8 159.45 L369.3 158.1 L369.8 156.8 L370.3 155.55 L370.8 154.35 L371.3 153.21 L371.8 152.14 L372.3 151.12 L372.8 150.17 L373.3 149.28 L373.8 148.45 L374.3 147.69 L374.8 146.99 L375.3 146.34 L375.8 145.76 L376.3 145.22 L376.8 144.74 L377.3 144.31 L377.8 143.92 L378.3 143.57 L378.8 143.26 L379.3 142.98 L379.8 142.74 L380.3 142.52 L380.8 142.33 L381.3 142.17 L381.8 142.03 L382.3 142.15 L382.8 142.37 L383.3 142.62 L383.8 142.9 L384.3 143.22 L384.8 143.58 L385.3 143.99 L385.8 144.45 L386.3 144.97 L386.8 145.54 L387.3 146.18 L387.8 146.88 L388.3 147.65 L388.8 148.49 L389.3 149.41 L389.8 150.41 L390.3 151.49 L390.8 152.66 L391.3 153.91 L391.8 155.24 L392.3 156.65 L392.8 158.15 L393.3 159.72 L393.8 161.37 L394.3 163.09 L394.8 164.88 L395.3 166.72 L395.8 168.61 L396.3 170.55 L396.8 172.52 L397.3 174.5 L397.8 176.5 L398.3 178.49 L398.8 180.46 L399.3 182.41 L399.8 184.3 L400.3 186.14 L400.8 187.91 L401.3 189.59 L401.8 191.16 L402.3 192.63 L402.8 193.96 L403.3 195.16 L403.8 196.21 L404.3 197.11 L404.8 197.83 L405.3 198.39 L405.8 198.77 L406.3 198.97 L406.8 198.99 L407.3 198.88 L407.8 198.66 L408.3 198.32 L408.8 197.87 L409.3 197.31 L409.8 196.65 L410.3 195.9 L410.8 195.06 L411.3 194.13 L411.8 193.14 L412.3 192.08 L412.8 190.97 L413.3 189.81 L413.8 188.62 L414.3 187.4 L414.8 186.17 L415.3 184.92 L415.8 183.67 L416.3 182.43 L416.8 181.21 L417.3 180 L417.8 178.82 L418.3 177.67 L418.8 176.56 L419.3 175.5 L419.8 174.47 L420.3 173.49 L420.8 172.56 L421.3 171.68 L421.8 170.85 L422.3 170.08 L422.8 169.35 L423.3 168.67 L423.8 168.05 L424.3 167.47 L424.8 166.94 L425.3 166.45 L425.8 166 L426.3 165.6 L426.8 165.23 L427.3 164.9 L427.8 164.6 L428.3 164.33 L428.8 164.09 L429.3 163.88 L429.8 163.69 L430.3 163.52 L430.8 163.44 L431.3 163.67 L431.8 163.93 L432.3 164.23 L432.8 164.57 L433.3 164.95 L433.8 165.37 L434.3 165.85 L434.8 166.37 L435.3 166.96 L435.8 167.6 L436.3 168.31 L436.8 169.09 L437.3 169.93 L437.8 170.85 L438.3 171.84 L438.8 172.9 L439.3 174.04 L439.8 175.26 L440.3 176.55 L440.8 177.91 L441.3 179.35 L441.8 180.85 L442.3 182.42 L442.8 184.04 L443.3 185.72 L443.8 187.44 L444.3 189.2 L444.8 190.99 L445.3 192.79 L445.8 194.61 L446.3 196.41 L446.8 198.2 L447.3 199.97 L447.8 201.69 L448.3 203.35 L448.8 204.95 L449.3 206.48 L449.8 207.9 L450.3 209.23 L450.8 210.44 L451.3 211.53 L451.8 212.48 L452.3 213.29 L452.8 213.94 L453.3 214.45 L453.8 214.79 L454.3 214.97 L454.8 214.99 L455.3 214.89 L455.8 214.68 L456.3 214.37 L456.8 213.95 L457.3 213.44 L457.8 212.83 L458.3 212.13 L458.8 211.35 L459.3 210.5 L459.8 209.58 L460.3 208.61 L460.8 207.58 L461.3 206.52 L461.8 205.43 L462.3 204.31 L462.8 203.17 L463.3 202.03 L463.8 200.9 L464.3 199.76 L464.8 198.65 L465.3 197.55 L465.8 196.49 L466.3 195.45 L466.8 194.45 L467.3 193.48 L467.8 192.56 L468.3 191.69 L468.8 190.86 L469.3 190.07 L469.8 189.34 L470.3 188.65 L470.8 188.01 L471.3 187.41 L471.8 186.86 L472.3 186.36 L472.8 185.89 L473.3 185.47 L473.8 185.08 L474.3 184.73 L474.8 184.42 L475.3 184.13 L475.8 183.88 L476.3 183.65 L476.8 183.45 L477.3 183.27 L477.8 183.34 L478.3 183.59 L478.8 183.88 L479.3 184.2 L479.8 184.55 L480.3 184.95 L480.8 185.38 L481.3 185.86 L481.8 186.39 L482.3 186.97 L482.8 187.6 L483.3 188.28 L483.8 189.02 L484.3 189.81 L484.8 190.67 L485.3 191.59 L485.8 192.56 L486.3 193.6 L486.8 194.7 L487.3 195.86 L487.8 197.07 L488.3 198.34 L488.8 199.67 L489.3 201.04 L489.8 202.46 L490.3 203.92 L490.8 205.42 L491.3 206.94 L491.8 208.49 L492.3 210.05 L492.8 211.62 L493.3 213.18 L493.8 214.74 L494.3 216.28 L494.8 217.78 L495.3 219.25 L495.8 220.68 L496.3 222.04 L496.8 223.34 L497.3 224.56 L497.8 225.7 L498.3 226.74 L498.8 227.68 L499.3 228.52 L499.8 229.24 L500.3 229.85 L500.8 230.33 L501.3 230.68 L501.8 230.91 L502.3 231 L502.8 230.97 L503.3 230.84 L503.8 230.63 L504.3 230.31 L504.8 229.91 L505.3 229.43 L505.8 228.86 L506.3 228.22 L506.8 227.51 L507.3 226.74 L507.8 225.91 L508.3 225.03 L508.8 224.11 L509.3 223.15 L509.8 222.17 L510.3 221.17 L510.8 220.16 L511.3 219.14 L511.8 218.12 L512.3 217.11 L512.8 216.11 L513.3 215.13 L513.8 214.17 L514.3 213.24 L514.8 212.34 L515.3 211.48 L515.8 210.65 L516.3 209.86 L516.8 209.11 L517.3 208.4 L517.8 207.73 L518.3 207.1 L518.8 206.51 L519.3 205.97 L519.8 205.46 L520.3 205 L520.8 204.57 L521.3 204.17 L521.8 203.82 L522.3 203.49 L522.8 203.19 L523.3 202.92 L523.8 202.68 L524.3 202.47 L524.8 202.27 L525.3 202.34 L525.8 202.61 L526.3 202.9 L526.8 203.22 L527.3 203.57 L527.8 203.96 L528.3 204.39 L528.8 204.85 L529.3 205.36 L529.8 205.91 L530.3 206.5 L530.8 207.14 L531.3 207.83 L531.8 208.56 L532.3 209.35 L532.8 210.18 L533.3 211.07 L533.8 212 L534.3 212.98 L534.8 214.02 L535.3 215.09 L535.8 216.21 L536.3 217.38 L536.8 218.58 L537.3 219.82 L537.8 221.09 L538.3 222.38 L538.8 223.7 L539.3 225.03 L539.8 226.38 L540.3 227.73 L540.8 229.07 L541.3 230.41 L541.8 231.73 L542.3 233.02 L542.8 234.29 L543.3 235.52 L543.8 236.7 L544.3 237.82 L544.8 238.89 L545.3 239.89 L545.8 240.82 L546.3 241.66 L546.8 242.42 L547.3 243.09 L547.8 243.67 L548.3 244.14 L548.8 244.52 L549.3 244.78 L549.8 244.95 L550.3 245 L550.8 244.96 L551.3 244.83 L551.8 244.62 L552.3 244.34 L552.8 243.97 L553.3 243.52 L553.8 243.01 L554.3 242.42 L554.8 241.77 L555.3 241.05 L555.8 240.28 L556.3 239.46 L556.8 238.59 L557.3 237.69 L557.8 236.75 L558.3 235.77 L558.8 234.78 L559.3 233.77 L559.8 232.74 L560.3 231.71 L560.8 230.68 L561.3 229.65 L561.8 228.63 L562.3 227.62 L562.8 226.63 L563.3 225.66 L563.8 224.71 L564.3 223.79 L564.8 222.89 L565.3 222.03 L565.8 221.2 L566.3 220.41 L566.8 219.65 L567.3 218.93 L567.8 218.25 L568.3 217.6 L568.8 216.99 L569.3 216.42 L569.8 215.88 L570.3 215.38 L570.8 214.92 L571.3 214.49 L571.8 214.09 L572.3 213.72 L572.8 213.38 L573.3 213.07" stroke="#009AFA"/>
</g>
<text x="70.2" y="371.3" font-family="Liberation Sans, sans-serif" font-size="12.6" text-anchor="middle" textLength="7.4" lengthAdjust="spacingAndGlyphs" fill="#000">0</text>
<text x="239.55" y="371.3" font-family="Liberation Sans, sans-serif" font-size="12.6" text-anchor="middle" textLength="22.5" lengthAdjust="spacingAndGlyphs" fill="#000">100</text>
<text x="408.7" y="371.3" font-family="Liberation Sans, sans-serif" font-size="12.6" text-anchor="middle" textLength="22.5" lengthAdjust="spacingAndGlyphs" fill="#000">200</text>
<text x="578.25" y="371.3" font-family="Liberation Sans, sans-serif" font-size="12.6" text-anchor="middle" textLength="22.5" lengthAdjust="spacingAndGlyphs" fill="#000">300</text>
<text x="46.6" y="351" font-family="Liberation Sans, sans-serif" font-size="12.6" text-anchor="end" textLength="18.3" lengthAdjust="spacingAndGlyphs" fill="#000">0.0</text>
<text x="46.6" y="295.82" font-family="Liberation Sans, sans-serif" font-size="12.6" text-anchor="end" textLength="18.3" lengthAdjust="spacingAndGlyphs" fill="#000">0.1</text>
<text x="46.6" y="240.64" font-family="Liberation Sans, sans-serif" font-size="12.6" text-anchor="end" textLength="18.3" lengthAdjust="spacingAndGlyphs" fill="#000">0.2</text>
<text x="46.6" y="185.46" font-family="Liberation Sans, sans-serif" font-size="12.6" text-anchor="end" textLength="18.3" lengthAdjust="spacingAndGlyphs" fill="#000">0.3</text>
<text x="46.6" y="130.28" font-family="Liberation Sans, sans-serif" font-size="12.6" text-anchor="end" textLength="18.3" lengthAdjust="spacingAndGlyphs" fill="#000">0.4</text>
<text x="46.6" y="75.1" font-family="Liberation Sans, sans-serif" font-size="12.6" text-anchor="end" textLength="18.3" lengthAdjust="spacingAndGlyphs" fill="#000">0.5</text>
<text x="302" y="391.8" font-family="Liberation Sans, sans-serif" font-size="17" textLength="39.16" lengthAdjust="spacingAndGlyphs" fill="#000">Time</text>
<text transform="translate(16.3 220.9) rotate(-90)" x="-1.03" y="0" font-family="Liberation Sans, sans-serif" font-size="17" textLength="55.7" lengthAdjust="spacingAndGlyphs" fill="#000">Energy</text>
<text x="72.24" y="18" font-family="Liberation Sans, sans-serif" font-size="22" textLength="70.07" lengthAdjust="spacingAndGlyphs" fill="#000">Energy</text>
<text x="150.57" y="18" font-family="Liberation Sans, sans-serif" font-size="22" textLength="49.11" lengthAdjust="spacingAndGlyphs" fill="#000">Over</text>
<text x="206" y="18" font-family="Liberation Sans, sans-serif" font-size="22" textLength="52.17" lengthAdjust="spacingAndGlyphs" fill="#000">Time</text>
<text x="265" y="18" font-family="Liberation Sans, sans-serif" font-size="22" textLength="27.66" lengthAdjust="spacingAndGlyphs" fill="#000">for</text>
<text x="298.98" y="18" font-family="Liberation Sans, sans-serif" font-size="22" textLength="67.06" lengthAdjust="spacingAndGlyphs" fill="#000">Modes</text>
<text x="373.94" y="18" font-family="Liberation Sans, sans-serif" font-size="22" textLength="19.51" lengthAdjust="spacingAndGlyphs" fill="#000">1,</text>
<text x="399.94" y="18" font-family="Liberation Sans, sans-serif" font-size="22" textLength="19.51" lengthAdjust="spacingAndGlyphs" fill="#000">3,</text>
<text x="425.94" y="18" font-family="Liberation Sans, sans-serif" font-size="22" textLength="19.51" lengthAdjust="spacingAndGlyphs" fill="#000">5,</text>
<text x="451.88" y="18" font-family="Liberation Sans, sans-serif" font-size="22" textLength="20.65" lengthAdjust="spacingAndGlyphs" fill="#000">7,</text>
<text x="478.94" y="18" font-family="Liberation Sans, sans-serif" font-size="22" textLength="19.51" lengthAdjust="spacingAndGlyphs" fill="#000">9,</text>
<text x="505.88" y="18" font-family="Liberation Sans, sans-serif" font-size="22" textLength="32.29" lengthAdjust="spacingAndGlyphs" fill="#000">11,</text>
<text x="544.97" y="18" font-family="Liberation Sans, sans-serif" font-size="22" textLength="25.12" lengthAdjust="spacingAndGlyphs" fill="#000">13</text>
<rect x="468.0" y="41.7" width="102.6" height="103.4" fill="#fff" stroke="#000" stroke-width="1.3"/>
<path d="M473.3 54.5H509.8" stroke="#009AFA" stroke-width="1.2"/>
<text x="514.7" y="58.9" font-family="Liberation Sans, sans-serif" font-size="12" textLength="42.23" lengthAdjust="spacingAndGlyphs" fill="#000">Mode 1</text>
<path d="M473.3 67.5H509.8" stroke="#E36F47" stroke-width="1.2"/>
<text x="514.7" y="71.9" font-family="Liberation Sans, sans-serif" font-size="12" textLength="42.23" lengthAdjust="spacingAndGlyphs" fill="#000">Mode 3</text>
<path d="M473.3 80.5H509.8" stroke="#3EA44E" stroke-width="1.2"/>
<text x="514.7" y="84.9" font-family="Liberation Sans, sans-serif" font-size="12" textLength="42.23" lengthAdjust="spacingAndGlyphs" fill="#000">Mode 5</text>
<path d="M473.3 93.5H509.8" stroke="#C371D2" stroke-width="1.2"/>
<text x="514.7" y="97.9" font-family="Liberation Sans, sans-serif" font-size="12" textLength="42.23" lengthAdjust="spacingAndGlyphs" fill="#000">Mode 7</text>
<path d="M473.3 106.5H509.8" stroke="#AC8D18" stroke-width="1.2"/>
<text x="514.7" y="110.9" font-family="Liberation Sans, sans-serif" font-size="12" textLength="42.23" lengthAdjust="spacingAndGlyphs" fill="#000">Mode 9</text>
<path d="M473.3 119.5H509.8" stroke="#00A9AD" stroke-width="1.2"/>
<text x="514.7" y="123.9" font-family="Liberation Sans, sans-serif" font-size="12" textLength="49.5" lengthAdjust="spacingAndGlyphs" fill="#000">Mode 11</text>
<path d="M473.3 132.5H509.8" stroke="#ED5E93" stroke-width="1.2"/>
<text x="514.7" y="136.9" font-family="Liberation Sans, sans-serif" font-size="12" textLength="50.87" lengthAdjust="spacingAndGlyphs" fill="#000">Mode 13</text>
</svg>
</body></html>
